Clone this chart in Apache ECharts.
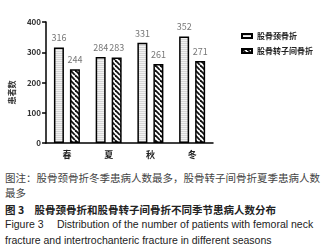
<!DOCTYPE html>
<html><head><meta charset="utf-8">
<script src="https://cdn.jsdelivr.net/npm/echarts@6/dist/echarts.min.js"></script>
<style>
html,body{margin:0;padding:0;background:#fff}
#wrap{position:relative;width:326px;height:250px;overflow:hidden}
#c{position:absolute;left:0;top:0;width:326px;height:165px}
.cap{position:absolute;left:5px;white-space:nowrap;line-height:13px;font-size:10.5px}
.zh{font-family:"Noto Sans CJK SC",sans-serif}
.en{font-family:"Liberation Sans",Arial,sans-serif;color:#222}
</style>
</head><body><div id="wrap"><div id="c"></div><div id="caps"></div></div>
<script>
var categories = ['春', '夏', '秋', '冬'];
var seriesNames = ['股骨颈骨折', '股骨转子间骨折'];
var neckValues = [316, 284, 331, 352];
var interValues = [244, 283, 261, 271];
var yTicks = [0, 100, 200, 300, 400];
var captionLines = [
  '图注：股骨颈骨折冬季患病人数最多，股骨转子间骨折夏季患病人数',
  '最多',
  '图 3\u3000股骨颈骨折和股骨转子间骨折不同季节患病人数分布',
  'Figure 3\u2003 Distribution of the number of patients with femoral neck',
  'fracture and intertrochanteric fracture in different seasons'
];

var capY = [177, 192, 209, 224, 240];
var capsEl = document.getElementById('caps');
captionLines.forEach(function (t, i) {
  var d = document.createElement('div');
  d.className = 'cap ' + (i < 3 ? 'zh' : 'en');
  d.style.top = (capY[i] - 6.5) + 'px';
  if (i < 2) d.style.color = '#444';
  if (i === 2) { d.style.color = '#222'; d.style.fontWeight = 'bold'; }
  d.textContent = t;
  capsEl.appendChild(d);
});

function stripePattern() {
  var c = document.createElement('canvas'); c.width = 4; c.height = 2;
  var g = c.getContext('2d');
  g.fillStyle = '#f2f2f2'; g.fillRect(0, 0, 4, 2);
  g.fillStyle = '#d6d6d6'; g.fillRect(0, 1, 4, 1);
  return c;
}
function hatchPattern() {
  var s = 5;
  var c = document.createElement('canvas'); c.width = s; c.height = s;
  var g = c.getContext('2d');
  g.fillStyle = '#fff'; g.fillRect(0, 0, s, s);
  g.strokeStyle = '#111'; g.lineWidth = 1.8;
  [-s, 0, s].forEach(function (k) { g.beginPath(); g.moveTo(k, 0); g.lineTo(k + s, s); g.stroke(); });
  return c;
}

var chart = echarts.init(document.getElementById('c'));
var cjk = '"Noto Sans CJK SC", "Liberation Sans", sans-serif';
var lbl = {show: true, position: 'top', distance: 5, fontSize: 9, color: '#777'};

chart.setOption({
  animation: false,
  textStyle: {fontFamily: cjk},
  grid: {left: 43.5, right: 113, top: 22, bottom: 22},
  legend: {
    orient: 'vertical', left: 236, top: 26, itemWidth: 10, itemHeight: 4, itemGap: 5, icon: 'rect',
    textStyle: {fontSize: 8, fontWeight: 'bold', color: '#222', lineHeight: 10},
    data: seriesNames
  },
  xAxis: {
    type: 'category', data: categories,
    axisLine: {lineStyle: {color: '#000', width: 1.5}},
    axisTick: {alignWithLabel: true, length: 4, lineStyle: {color: '#000', width: 1.5}},
    axisLabel: {fontSize: 9, fontWeight: 'bold', color: '#222', margin: 7}
  },
  yAxis: {
    type: 'value', min: yTicks[0], max: yTicks[yTicks.length - 1], interval: 100,
    name: '患者数', nameLocation: 'middle', nameRotate: 90, nameGap: 22,
    nameTextStyle: {fontSize: 8, fontWeight: 'bold', color: '#333', padding: [0, 0, 0, -20]},
    splitLine: {show: false},
    axisLine: {show: true, lineStyle: {color: '#000', width: 1.5}},
    axisTick: {show: true, length: 4, lineStyle: {color: '#000', width: 1.5}},
    axisLabel: {fontSize: 8, fontWeight: 'bold', color: '#333', margin: 5}
  },
  series: [
    {name: seriesNames[0], type: 'bar', data: neckValues, barWidth: 10, barGap: '60%',
      itemStyle: {color: {image: stripePattern(), repeat: 'repeat'}, borderColor: '#000', borderWidth: 1.5},
      label: lbl},
    {name: seriesNames[1], type: 'bar', data: interValues, barWidth: 10,
      itemStyle: {color: {image: hatchPattern(), repeat: 'repeat'}, borderColor: '#000', borderWidth: 1.5},
      label: lbl}
  ]
});
</script></body></html>
